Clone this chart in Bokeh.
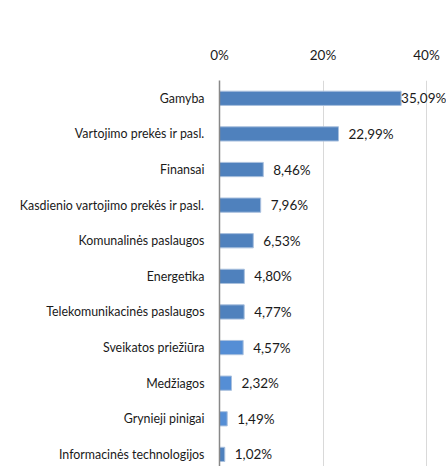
from bokeh.plotting import figure
from bokeh.models import Range1d, FixedTicker, ColumnDataSource
from bokeh.core.properties import value
from bokeh.embed import file_html
from bokeh.resources import INLINE

categories = ["Gamyba", "Vartojimo prekės ir pasl.", "Finansai",
              "Kasdienio vartojimo prekės ir pasl.", "Komunalinės paslaugos",
              "Energetika", "Telekomunikacinės paslaugos", "Sveikatos priežiūra",
              "Medžiagos", "Grynieji pinigai", "Informacinės technologijos"]
values = [35.09, 22.99, 8.46, 7.96, 6.53, 4.80, 4.77, 4.57, 2.32, 1.49, 1.02]
labels = ["35,09%", "22,99%", "8,46%", "7,96%", "6,53%", "4,80%", "4,77%",
          "4,57%", "2,32%", "1,49%", "1,02%"]
colors = ["#4F81BD"] * 7 + ["#558ED5", "#558ED5", "#558ED5", "#4F81BD"]
x_ticks = [0, 20, 40]
x_tick_labels = ["0%", "20%", "40%"]

pos = list(range(len(categories)))
offsets = [0 if v > 30 else 10 for v in values]
src = ColumnDataSource(dict(y=pos, v=values, lab=labels, c=colors, off=offsets))

p = figure(width=446, height=466, output_backend="svg", toolbar_location=None,
           x_range=Range1d(0, 43.86), y_range=Range1d(10.34, -0.5),
           x_axis_location="above", min_border_left=219, min_border_top=80,
           min_border_bottom=0, min_border_right=0)
p.outline_line_color = None
p.background_fill_color = "white"
p.border_fill_color = "white"

p.hbar(y="y", right="v", left=0, height=0.4, fill_color="c",
       line_color="#a9c0de", line_width=1, source=src)
p.text(x="v", y="y", text="lab", x_offset="off", source=src,
       text_baseline="middle", text_align="left",
       text_font=value("Lato"), text_font_size="13.5px", text_color="#1a1a1a")

xa = p.xaxis[0]
xa.ticker = FixedTicker(ticks=x_ticks)
xa.major_label_overrides = {t: l for t, l in zip(x_ticks, x_tick_labels)}
xa.axis_line_color = None
xa.major_tick_line_color = None
xa.minor_tick_line_color = None
xa.major_label_standoff = 12
xa.major_label_text_font = "Lato"
xa.major_label_text_font_size = "13.5px"
xa.major_label_text_color = "#1a1a1a"

ya = p.yaxis[0]
ya.ticker = FixedTicker(ticks=pos)
ya.major_label_overrides = {i: c for i, c in zip(pos, categories)}
ya.axis_line_color = "#888888"
ya.axis_line_width = 1.5
ya.major_tick_line_color = None
ya.minor_tick_line_color = None
ya.major_label_standoff = 9
ya.major_label_text_font = "Lato"
ya.major_label_text_font_size = "12.4px"
ya.major_label_text_color = "#1a1a1a"

p.xgrid.ticker = FixedTicker(ticks=x_ticks)
p.xgrid.grid_line_color = "#d9d9d9"
p.ygrid.visible = False

open("out.html", "w").write(file_html(p, INLINE))
